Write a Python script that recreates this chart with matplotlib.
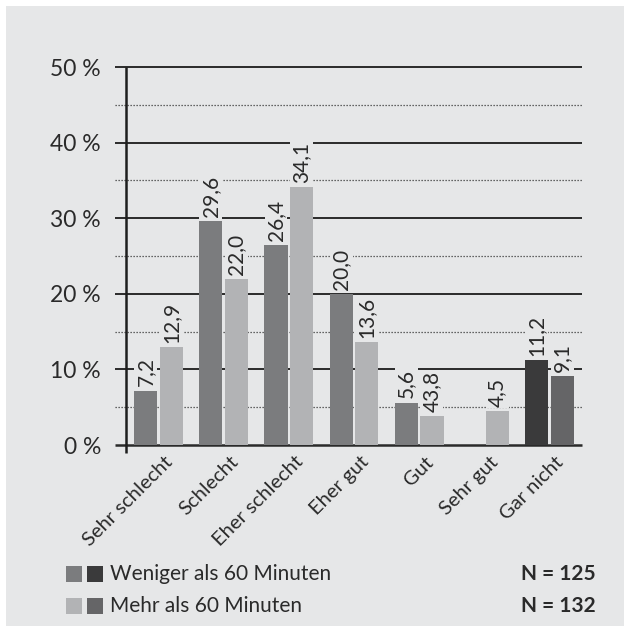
import matplotlib
matplotlib.use('Agg')
from matplotlib import pyplot as plt
from matplotlib.patches import Rectangle

plt.rcParams['font.family'] = ['Lato', 'DejaVu Sans']

categories = ['Sehr schlecht', 'Schlecht', 'Eher schlecht', 'Eher gut', 'Gut', 'Sehr gut', 'Gar nicht']
weniger = [7.2, 29.6, 26.4, 20.0, 5.6, 0.0, 11.2]
mehr = [12.9, 22.0, 34.1, 13.6, 3.8, 4.5, 9.1]
weniger_labels = ['7,2', '29,6', '26,4', '20,0', '5,6', '', '11,2']
mehr_labels = ['12,9', '22,0', '34,1', '13,6', '43,8', '4,5', '9,1']
yticks = [0, 10, 20, 30, 40, 50]
ytick_labels = ['0 %', '10 %', '20 %', '30 %', '40 %', '50 %']
legend_names = ['Weniger als 60 Minuten', 'Mehr als 60 Minuten']
legend_n = ['N = 125', 'N = 132']

bg = '#e6e7e8'
c_dark = '#7b7c7e'
c_light = '#b2b3b5'
c_dark2 = '#3a3a3b'
c_light2 = '#656567'
txt = '#2a2a2a'

W, H = 624, 626
fig = plt.figure(figsize=(W / 100, H / 100), dpi=100, facecolor='white')
fig.patches.append(Rectangle((6 / W, 0), 1, 1 - 6 / H, transform=fig.transFigure,
                             facecolor=bg, edgecolor='none', zorder=-10))

def px(x, y):
    return x / W, 1 - y / H

x0, y0 = px(126, 445)
x1, y1 = px(582, 67)
ax = fig.add_axes([x0, y0, x1 - x0, y1 - y0])
ax.set_facecolor('none')
for s in ax.spines.values():
    s.set_visible(False)
ax.set_xlim(-0.5, len(categories) - 0.5)
ax.set_ylim(0, 50)

tr = ax.get_yaxis_transform()
ext = -11 / 456
for v in [5, 15, 25, 35, 45]:
    ax.plot([ext, 1], [v, v], transform=tr, color='#3a3a3a', lw=0.9,
            linestyle=(0, (1, 1.4)), clip_on=False, zorder=1)
for v in yticks:
    ax.plot([ext, 1], [v, v], transform=tr, color='#2a2a2a', lw=1.4 if v else 1.8,
            clip_on=False, zorder=1, solid_capstyle='butt')
ax.plot([-0.5, -0.5], [-1.1, 50], color='#1e1e1e', lw=1.8, clip_on=False, zorder=5,
        solid_capstyle='butt')

ax.set_yticks(yticks)
ax.set_yticklabels(ytick_labels, fontsize=16.5, color=txt)
ax.tick_params(axis='y', length=0, pad=18)

xs = list(range(len(categories)))
bw = 0.354
off = 0.197
cols_d = [c_dark] * 6 + [c_dark2]
cols_l = [c_light] * 6 + [c_light2]
ax.bar([x - off for x in xs], weniger, width=bw, color=cols_d, zorder=3)
ax.bar([x + off for x in xs], mehr, width=bw, color=cols_l, zorder=3)

lab_box = dict(facecolor=bg, edgecolor='none', pad=1.0)
for x, v, l in zip(xs, weniger, weniger_labels):
    if l:
        ax.annotate(l, (x - off, v), xytext=(0, 3), textcoords='offset points',
                    rotation=90, ha='center', va='bottom', fontsize=15, color=txt,
                    bbox=lab_box, zorder=4)
for x, v, l in zip(xs, mehr, mehr_labels):
    ax.annotate(l, (x + off, v), xytext=(0, 3), textcoords='offset points',
                rotation=90, ha='center', va='bottom', fontsize=15, color=txt,
                bbox=lab_box, zorder=4)

ax.set_xticks(xs)
ax.set_xticklabels([])
ax.tick_params(axis='x', length=0)
for x, c in zip(xs, categories):
    ax.annotate(c, (x, 0), xytext=(4, -6), textcoords='offset points',
                rotation=45, rotation_mode='anchor', ha='right', va='top',
                fontsize=14.5, color=txt, annotation_clip=False)

# legend
rows = [574, 606]
sq = [(c_dark, c_dark2), (c_light, c_light2)]
for r, (ca, cb), name, n in zip(rows, sq, legend_names, legend_n):
    for xl, c in [(66, ca), (87, cb)]:
        fx, fy = px(xl, r + 8)
        fig.patches.append(Rectangle((fx, fy), 16 / W, 16 / H, transform=fig.transFigure,
                                     facecolor=c, edgecolor='none'))
    fx, fy = px(110, r)
    fig.text(fx, fy, name, fontsize=15, color=txt, va='center', ha='left')
    fx, fy = px(596, r)
    fig.text(fx, fy, n, fontsize=15, color=txt, va='center', ha='right', fontweight='bold')

fig.savefig('out.png', dpi=100, facecolor=fig.get_facecolor())
